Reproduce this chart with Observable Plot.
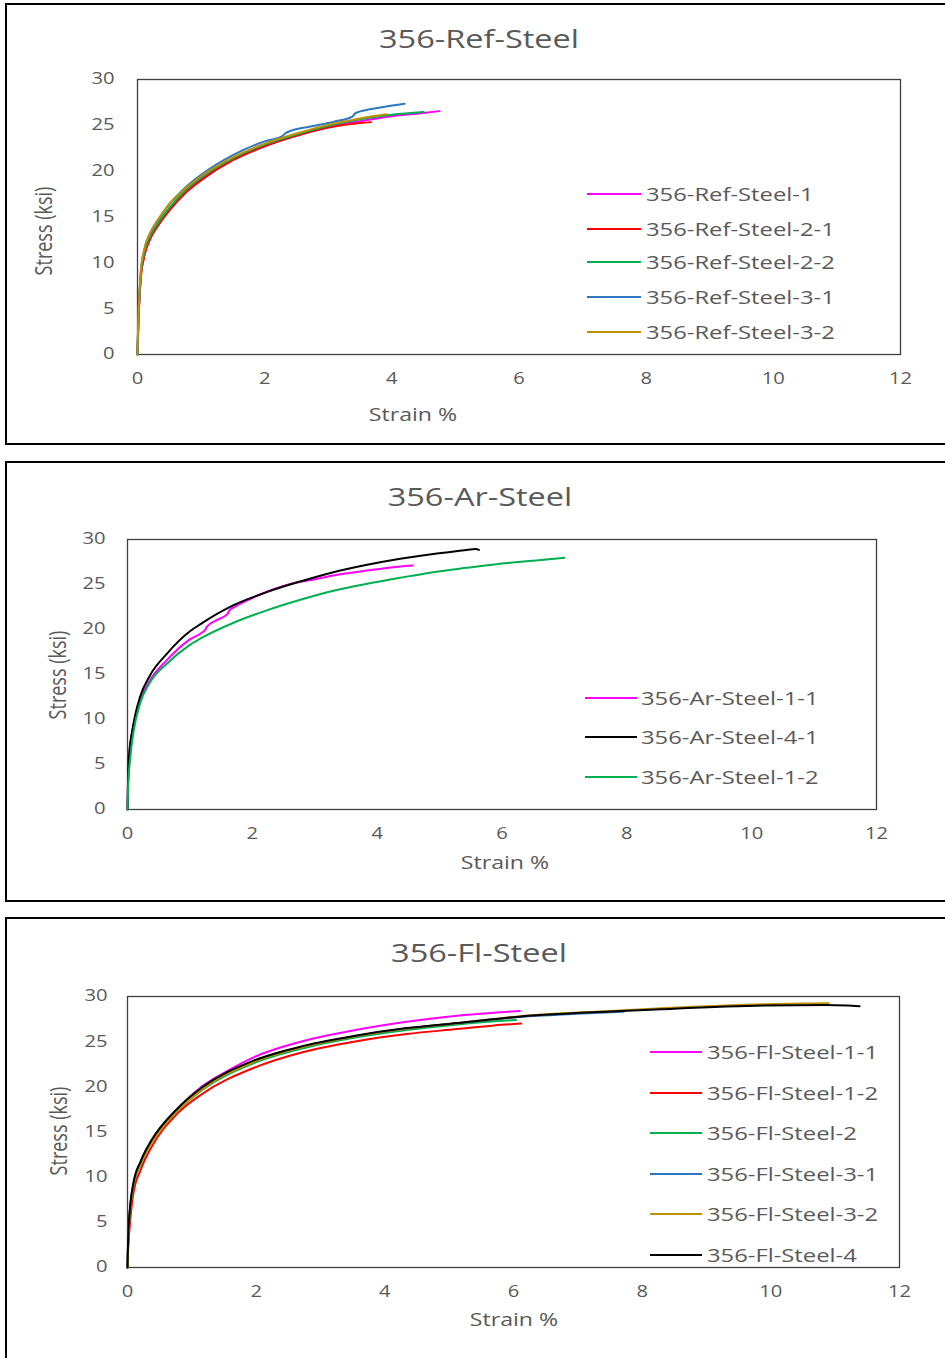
<!DOCTYPE html>
<html><head><meta charset="utf-8">
<script src="https://cdn.jsdelivr.net/npm/d3@7"></script>
<script src="https://cdn.jsdelivr.net/npm/@observablehq/plot@0.6"></script>
<style>
body{margin:0;background:#fff;}
#page{position:relative;width:945px;height:1358px;overflow:hidden;background:#fff;font-family:"Open Sans",sans-serif;color:#595959;}
.panel{position:absolute;left:5px;width:990px;border:2px solid #000;box-sizing:border-box;}
.t{position:absolute;white-space:nowrap;line-height:1;}
.sw{position:absolute;height:2px;}
svg{position:absolute;left:0;}
</style></head><body><div id="page"></div>
<script>
// ---- axis ticks ----
const xTicks = [0, 2, 4, 6, 8, 10, 12];
const yTicks = [0, 5, 10, 15, 20, 25, 30];

// ---- panel titles ----
const titles = ["356-Ref-Steel", "356-Ar-Steel", "356-Fl-Steel"];
const xLabel = "Strain %";
const yLabel = "Stress (ksi)";

// ---- 356-Ref-Steel series [strain %, stress ksi] ----
const refNames = ["356-Ref-Steel-1", "356-Ref-Steel-2-1", "356-Ref-Steel-2-2", "356-Ref-Steel-3-1", "356-Ref-Steel-3-2"];
const refColors = ["#FF00FF", "#FF0000", "#00B050", "#2F78C0", "#BF9000"];
const ref1 = [[0,0],[0.01,2.5],[0.02,4.5],[0.05,8.3],[0.1,10.6],[0.2,12.7],[0.3,13.9],[0.5,15.8],[0.75,17.7],[1.0,19.1],[1.5,21.25],[2.0,22.75],[2.5,23.9],[3.0,24.8],[3.5,25.45],[4.0,26.0],[4.5,26.35],[4.75,26.55]];
const ref21 = [[0,0],[0.01,2.5],[0.02,4.5],[0.05,8.2],[0.1,10.5],[0.2,12.6],[0.3,13.8],[0.5,15.7],[0.75,17.6],[1.0,19.0],[1.5,21.2],[2.0,22.7],[2.5,23.85],[3.0,24.75],[3.5,25.25],[3.67,25.35]];
const ref22 = [[0,0],[0.01,2.8],[0.02,4.8],[0.05,8.5],[0.1,10.9],[0.2,12.9],[0.3,14.1],[0.5,16.0],[0.75,17.9],[1.0,19.3],[1.5,21.4],[2.0,22.9],[2.5,24.0],[3.0,24.95],[3.5,25.65],[4.0,26.15],[4.5,26.45]];
const ref31 = [[0,0],[0.01,3],[0.02,5],[0.05,8.8],[0.1,11.2],[0.2,13.2],[0.3,14.4],[0.5,16.4],[0.75,18.2],[1.0,19.6],[1.5,21.75],[2.0,23.25],[2.27,23.8],[2.33,24.15],[2.41,24.4],[2.7,24.85],[3.09,25.4],[3.38,25.95],[3.43,26.35],[3.87,27.0],[4.2,27.35]];
const ref32 = [[0,0],[0.01,3],[0.02,5.2],[0.05,9.0],[0.1,11.3],[0.2,13.3],[0.3,14.5],[0.5,16.4],[0.75,18.1],[1.0,19.45],[1.5,21.5],[2.0,23.0],[2.5,24.1],[3.0,25.05],[3.5,25.75],[3.92,26.2]];

// ---- 356-Ar-Steel series ----
const arNames = ["356-Ar-Steel-1-1", "356-Ar-Steel-4-1", "356-Ar-Steel-1-2"];
const arColors = ["#FF00FF", "#000000", "#00B050"];
const ar11 = [[0,0],[0.005,2],[0.016,4.4],[0.05,7.5],[0.1,9.5],[0.2,12.1],[0.36,14.35],[0.63,16.6],[1.0,18.9],[1.2,19.7],[1.25,20.0],[1.27,20.3],[1.43,21.05],[1.6,21.7],[1.63,22.1],[1.7,22.45],[1.91,23.2],[2.23,24.2],[2.5,24.85],[2.77,25.3],[2.98,25.55],[3.3,26.0],[3.84,26.55],[4.37,27.0],[4.57,27.1]];
const ar41 = [[0,0],[0.008,3],[0.025,6],[0.07,8.5],[0.12,10.4],[0.2,12.5],[0.36,14.9],[0.63,17.3],[1.0,19.8],[1.17,20.6],[1.7,22.7],[2.23,24.15],[2.77,25.34],[3.3,26.37],[3.84,27.19],[4.37,27.86],[4.9,28.4],[5.4,28.8],[5.58,28.95],[5.63,28.85]];
const ar12 = [[0,0],[0.01,2.5],[0.045,5.8],[0.1,8.8],[0.2,11.76],[0.364,14.16],[0.63,16.2],[1.0,18.3],[1.165,18.98],[1.7,20.75],[2.23,22.12],[2.77,23.3],[3.3,24.3],[3.84,25.08],[4.37,25.75],[4.9,26.37],[5.43,26.85],[5.97,27.3],[6.5,27.65],[7.0,27.97]];

// ---- 356-Fl-Steel series ----
const flNames = ["356-Fl-Steel-1-1", "356-Fl-Steel-1-2", "356-Fl-Steel-2", "356-Fl-Steel-3-1", "356-Fl-Steel-3-2", "356-Fl-Steel-4"];
const flColors = ["#FF00FF", "#FF0000", "#00B050", "#2F78C0", "#BF9000", "#000000"];
const fl11 = [[0,0],[0.01,3],[0.04,6.5],[0.09,9.1],[0.21,11.7],[0.37,13.9],[0.77,17.45],[1.16,20.05],[1.56,21.8],[1.96,23.27],[2.75,25.1],[3.54,26.28],[4.34,27.2],[5.13,27.88],[5.8,28.25],[6.1,28.4]];
const fl12 = [[0,0],[0.01,2],[0.04,5.0],[0.09,8.15],[0.21,10.9],[0.37,13.3],[0.77,17.0],[1.16,19.21],[1.96,22.09],[2.75,23.89],[3.54,25.03],[4.34,25.85],[5.13,26.4],[5.7,26.8],[6.12,27.0]];
const fl2 = [[0,0],[0.01,2.8],[0.04,6.2],[0.09,8.9],[0.21,11.5],[0.37,13.8],[0.77,17.3],[1.16,19.66],[1.96,22.6],[2.75,24.3],[3.54,25.45],[4.34,26.28],[5.13,26.9],[5.6,27.2],[6.04,27.4]];
const fl31 = [[0,0],[0.01,3],[0.04,6.6],[0.09,9.2],[0.21,11.8],[0.37,14.0],[0.77,17.5],[1.16,19.9],[1.96,22.85],[2.75,24.5],[3.54,25.6],[4.34,26.45],[5.13,27.05],[6.08,27.72],[6.9,28.05],[7.71,28.3]];
const fl32 = [[0,0],[0.01,2.8],[0.04,6.3],[0.09,9.0],[0.21,11.6],[0.37,13.7],[0.77,17.3],[1.16,19.75],[1.96,22.75],[2.75,24.45],[3.54,25.6],[4.34,26.45],[5.13,27.05],[6.08,27.8],[7.51,28.4],[8.3,28.7],[9.89,29.15],[10.5,29.22],[10.9,29.24]];
const fl4 = [[0,0],[0.01,3.2],[0.04,6.67],[0.09,9.26],[0.21,11.84],[0.37,14.05],[0.77,17.55],[1.16,19.95],[1.96,22.9],[2.75,24.56],[3.54,25.66],[4.34,26.5],[5.13,27.07],[6.08,27.77],[7.51,28.35],[8.3,28.6],[9.89,29.0],[10.84,29.07],[11.2,29.0],[11.38,28.93]];

const STRETCH = 1.3;
const page = document.getElementById("page");

const panels = [
  {title: titles[0], names: refNames, colors: refColors, series: [ref1, ref21, ref22, ref31, ref32],
   box: [3, 442], frame: [137, 900, 79, 354], svgTop: 50, yPad: 23,
   tc: [479, 37.5], xl: [413, 415], yl: [43, 231], leg: [587, 641, 645.5], rows: [194, 228.7, 262.3, 296.7, 331.7]},
  {title: titles[1], names: arNames, colors: arColors, series: [ar11, ar41, ar12],
   box: [461, 441], frame: [127, 876, 539, 809], svgTop: 510, yPad: 22,
   tc: [480, 496], xl: [505, 863], yl: [57, 675], leg: [584.5, 637, 641], rows: [697.7, 737.3, 777]},
  {title: titles[2], names: flNames, colors: flColors, series: [fl11, fl12, fl2, fl31, fl32, fl4],
   box: [917, 470], frame: [127, 899, 996, 1267], svgTop: 967, yPad: 20,
   tc: [479, 952], xl: [514, 1320], yl: [58, 1131], leg: [650, 702, 707], rows: [1052.3, 1093, 1133.3, 1174, 1214, 1255]}
];

function addText(txt, left, top, size, transform, origin) {
  const s = document.createElement("span");
  s.className = "t";
  s.textContent = txt;
  s.style.left = left + "px";
  s.style.top = top + "px";
  s.style.fontSize = size + "px";
  s.style.transform = transform;
  if (origin) s.style.transformOrigin = origin;
  page.appendChild(s);
  return s;
}

for (const p of panels) {
  const box = document.createElement("div");
  box.className = "panel";
  box.style.top = p.box[0] + "px";
  box.style.height = p.box[1] + "px";
  page.appendChild(box);

  const rows = p.series.flatMap((s, i) => s.map(([strain, stress]) => ({series: p.names[i], strain, stress})));
  const [fl, fr, ft, fb] = p.frame;
  const svgH = 340;
  const svg = Plot.plot({
    width: 945,
    height: svgH,
    marginLeft: fl,
    marginRight: 945 - fr,
    marginTop: ft - p.svgTop,
    marginBottom: p.svgTop + svgH - fb,
    x: {domain: [0, 12], ticks: xTicks, tickSize: 0, tickPadding: 18, label: null},
    y: {domain: [0, 30], ticks: yTicks, tickSize: 0, tickPadding: p.yPad, label: null},
    color: {domain: p.names, range: p.colors},
    style: {fontFamily: "Open Sans", fontSize: "15.5px", color: "#595959", background: "transparent", overflow: "visible"},
    marks: [
      Plot.frame({stroke: "#404040", strokeWidth: 1.3}),
      Plot.line(rows, {x: "strain", y: "stress", z: "series", stroke: "series", strokeWidth: 2, curve: "monotone-x"})
    ]
  });
  svg.style.top = p.svgTop + "px";
  page.appendChild(svg);
  svg.querySelectorAll("text").forEach(el => {
    const w = el.getComputedTextLength();
    if (w > 0) {
      el.setAttribute("textLength", (w * STRETCH).toFixed(2));
      el.setAttribute("lengthAdjust", "spacingAndGlyphs");
    }
  });

  // title
  addText(p.title, p.tc[0], p.tc[1], 25, `translate(-50%,-50%) scaleX(${STRETCH})`);
  // axis titles
  addText(xLabel, p.xl[0], p.xl[1], 17.8, `translate(-50%,-50%) scaleX(${STRETCH})`);
  addText(yLabel, p.yl[0], p.yl[1], 18, `translate(-50%,-50%) scaleX(${STRETCH}) rotate(-90deg)`);
  // legend
  p.names.forEach((name, i) => {
    const sw = document.createElement("div");
    sw.className = "sw";
    sw.style.left = p.leg[0] + "px";
    sw.style.width = (p.leg[1] - p.leg[0]) + "px";
    sw.style.top = (p.rows[i] - 1) + "px";
    sw.style.background = p.colors[i];
    page.appendChild(sw);
    addText(name, p.leg[2], p.rows[i], 18.3, `translateY(-50%) scaleX(${STRETCH})`, "left center");
  });
}
</script></body></html>
